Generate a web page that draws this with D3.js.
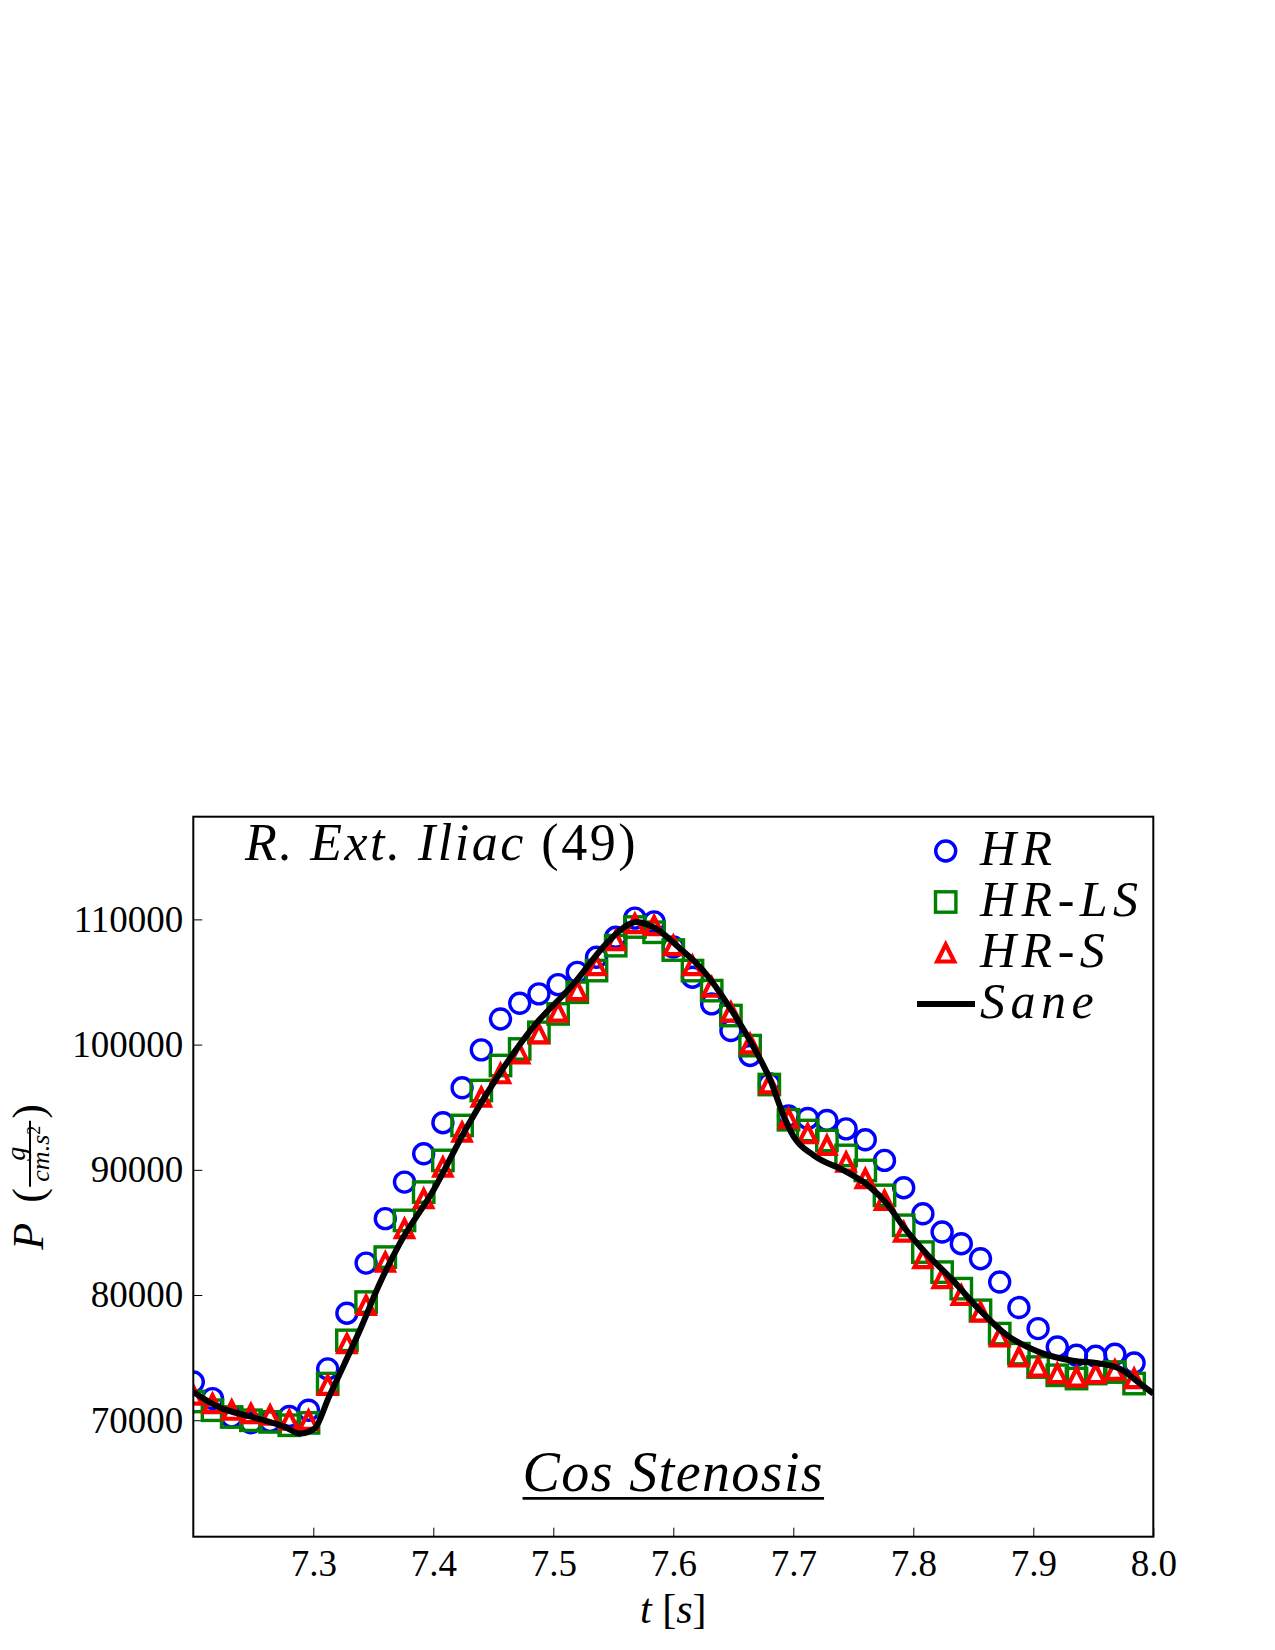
<!DOCTYPE html>
<html>
<head>
<meta charset="utf-8">
<script src="https://cdn.jsdelivr.net/npm/d3@7"></script>
<style>
body { margin: 0; background: #fff; }
text { font-family: "Liberation Serif", "Times New Roman", serif; fill: #000; }
</style>
</head>
<body>
<div id="chart"></div>
<script>
// sample times of the markers [s]
const times = [7.200, 7.216, 7.232, 7.248, 7.264, 7.280, 7.296, 7.312, 7.328, 7.344,
               7.360, 7.376, 7.392, 7.408, 7.424, 7.440, 7.456, 7.472, 7.488, 7.504,
               7.520, 7.536, 7.552, 7.568, 7.584, 7.600, 7.616, 7.632, 7.648, 7.664,
               7.680, 7.696, 7.712, 7.728, 7.744, 7.760, 7.776, 7.792, 7.808, 7.824,
               7.840, 7.856, 7.872, 7.888, 7.904, 7.920, 7.936, 7.952, 7.968, 7.984];

const hr = [73050, 71730, 70260, 69800, 69900, 70300, 70800, 74100, 78550, 82550,
            86100, 89020, 91280, 93760, 96550, 99580, 102050, 103300, 104050, 104790,
            105770, 106970, 108570, 110100, 109800, 107800, 105380, 103250, 101120, 99130,
            96870, 94300, 94100, 93940, 93270, 92400, 90750, 88570, 86490, 85030,
            84100, 82900, 81040, 79000, 77320, 75850, 75190, 75110, 75270, 74570];

const hrLS = [71500, 70800, 70260, 70000, 69870, 69600, 69790, 72930, 76380, 79440,
              83030, 85960, 88220, 90750, 93540, 96330, 98330, 99650, 100980, 102450,
              104180, 105910, 107900, 109390, 108970, 107550, 105910, 104310, 102320, 99920,
              96810, 94000, 93140, 92340, 91150, 89950, 87960, 85570, 83430, 81830,
              80510, 78780, 76920, 75320, 74250, 73590, 73330, 73730, 73850, 72930];

const hrS = [72000, 71330, 70800, 70530, 70400, 70000, 70000, 72790, 76120, 79180,
             82630, 85300, 87690, 90210, 93010, 95800, 97670, 99260, 100860, 102590,
             104310, 106310, 108300, 109660, 109500, 107900, 106310, 104580, 102590, 100060,
             96870, 94100, 92880, 91940, 90610, 89290, 87560, 85030, 82900, 81310,
             79980, 78640, 76650, 75050, 74250, 73730, 73450, 73730, 73990, 73330];

// reference (sane) curve
const saneT = [7.200, 7.221, 7.249, 7.276, 7.289, 7.301, 7.313, 7.326, 7.340, 7.354,
               7.372, 7.400, 7.428, 7.456, 7.483, 7.517, 7.544, 7.561, 7.569, 7.586,
               7.603, 7.625, 7.647, 7.667, 7.681, 7.692, 7.700, 7.717, 7.742, 7.764,
               7.778, 7.792, 7.811, 7.833, 7.853, 7.878, 7.906, 7.933, 7.956, 7.972,
               7.989, 8.000];
const saneP = [72260, 71060, 70260, 69470, 68940, 69340, 71860, 74520, 77450, 80640,
               84100, 88350, 93400, 97790, 101380, 104850, 108040, 109500, 109800, 109240,
               107900, 105910, 102980, 99790, 97130, 94300, 92700, 91150, 89950, 88620,
               87290, 85430, 83300, 81170, 79040, 76800, 75400, 74750, 74520, 74120,
               72930, 72130];

const xTicks = [7.3, 7.4, 7.5, 7.6, 7.7, 7.8, 7.9, 8.0];
const yTicks = [70000, 80000, 90000, 100000, 110000];
const legendNames = ["HR", "HR-LS", "HR-S", "Sane"];

const width = 1275, height = 1650;
const margin = {top: 816.7, right: 121.7, bottom: 113.3, left: 193.3};

const svg = d3.select("#chart").append("svg")
    .attr("width", width)
    .attr("height", height)
    .style("background", "#fff");

const x = d3.scaleLinear().domain([7.2, 8.0]).range([margin.left, width - margin.right]);
const y = d3.scaleLinear().domain([60700, 118200]).range([height - margin.bottom, margin.top]);

svg.append("clipPath").attr("id", "plotclip")
   .append("rect")
   .attr("x", margin.left).attr("y", margin.top)
   .attr("width", width - margin.left - margin.right)
   .attr("height", height - margin.top - margin.bottom);

// axes, ticks inward
const xAxis = svg.append("g")
    .attr("transform", `translate(0,${height - margin.bottom})`)
    .call(d3.axisBottom(x).tickValues(xTicks).tickFormat(d3.format(".1f"))
          .tickSizeInner(-9).tickSizeOuter(0).tickPadding(13));
const yAxis = svg.append("g")
    .attr("transform", `translate(${margin.left},0)`)
    .call(d3.axisLeft(y).tickValues(yTicks).tickFormat(d => d)
          .tickSizeInner(-9).tickSizeOuter(0).tickPadding(10));
[xAxis, yAxis].forEach(a => {
    a.select(".domain").remove();
    a.selectAll("line").attr("stroke", "#000").attr("stroke-width", 1);
    a.selectAll("text").style("font-size", "37px").attr("fill", "#000")
     .style("font-family", "'Liberation Serif', serif");
});

const plot = svg.append("g").attr("clip-path", "url(#plotclip)");

const tri = "M0,-8.5L-8.5,8.5L8.5,8.5Z";

plot.selectAll("circle.hr").data(times).join("circle")
    .attr("class", "hr")
    .attr("cx", d => x(d)).attr("cy", (d, i) => y(hr[i]))
    .attr("r", 10).attr("fill", "none")
    .attr("stroke", "#0000ff").attr("stroke-width", 3.4);

plot.selectAll("rect.ls").data(times).join("rect")
    .attr("class", "ls")
    .attr("x", d => x(d) - 10.2).attr("y", (d, i) => y(hrLS[i]) - 10.2)
    .attr("width", 20.4).attr("height", 20.4).attr("fill", "none")
    .attr("stroke", "#008000").attr("stroke-width", 3.4);

plot.selectAll("path.s").data(times).join("path")
    .attr("class", "s")
    .attr("d", tri)
    .attr("transform", (d, i) => `translate(${x(d)},${y(hrS[i])})`)
    .attr("fill", "none").attr("stroke", "#ff0000").attr("stroke-width", 4.2);

const line = d3.line()
    .x(d => x(d[0])).y(d => y(d[1]))
    .curve(d3.curveMonotoneX);
plot.append("path")
    .datum(saneT.map((t, i) => [t, saneP[i]]))
    .attr("d", line)
    .attr("fill", "none").attr("stroke", "#000").attr("stroke-width", 6)
    .attr("stroke-linejoin", "round");

// frame
svg.append("rect")
    .attr("x", margin.left).attr("y", margin.top)
    .attr("width", width - margin.left - margin.right)
    .attr("height", height - margin.top - margin.bottom)
    .attr("fill", "none").attr("stroke", "#000").attr("stroke-width", 2);

// title inside axes
const title = svg.append("text")
    .attr("x", 245).attr("y", 860)
    .style("font-size", "52px").style("letter-spacing", "2.5px");
title.append("tspan").style("font-style", "italic").text("R. Ext. Iliac ");
title.append("tspan").text("(49)");

// Cos Stenosis, underlined
const cs = svg.append("text")
    .attr("x", (margin.left + width - margin.right) / 2).attr("y", 1491)
    .attr("text-anchor", "middle")
    .style("font-size", "56px").style("font-style", "italic").style("letter-spacing", "1.4px")
    .text("Cos Stenosis");
const bb = cs.node().getBBox();
svg.append("line")
    .attr("x1", bb.x).attr("x2", bb.x + bb.width)
    .attr("y1", 1498.3).attr("y2", 1498.3)
    .attr("stroke", "#000").attr("stroke-width", 2.7);

// legend
const leg = svg.append("g");
const legY = d3.scalePoint().domain(legendNames).range([851, 1004]);
const lx = 945.7;
leg.append("circle").attr("cx", lx).attr("cy", legY("HR")).attr("r", 10)
   .attr("fill", "none").attr("stroke", "#0000ff").attr("stroke-width", 3.4);
leg.append("rect").attr("x", lx - 10.2).attr("y", legY("HR-LS") - 10.2)
   .attr("width", 20.4).attr("height", 20.4)
   .attr("fill", "none").attr("stroke", "#008000").attr("stroke-width", 3.4);
leg.append("path").attr("d", tri).attr("transform", `translate(${lx},${legY("HR-S")})`)
   .attr("fill", "none").attr("stroke", "#ff0000").attr("stroke-width", 4.2);
leg.append("line").attr("x1", 917).attr("x2", 975)
   .attr("y1", legY("Sane")).attr("y2", legY("Sane"))
   .attr("stroke", "#000").attr("stroke-width", 6);
leg.selectAll("text").data(legendNames).join("text")
   .attr("x", 980).attr("y", d => legY(d) + 14)
   .style("font-size", "50px").style("font-style", "italic").style("letter-spacing", "5.5px")
   .text(d => d);

// x label
const xl = svg.append("text")
    .attr("x", (margin.left + width - margin.right) / 2).attr("y", 1623)
    .attr("text-anchor", "middle").style("font-size", "42px");
xl.append("tspan").style("font-style", "italic").text("t");
xl.append("tspan").text(" [");
xl.append("tspan").style("font-style", "italic").text("s");
xl.append("tspan").text("]");

// y label: P (g / cm.s^2), rotated
const yl = svg.append("g").attr("transform", `translate(31,${(margin.top + height - margin.bottom) / 2}) rotate(-90)`);
yl.append("text").attr("x", -73).attr("y", 12)
  .style("font-size", "44px").style("font-style", "italic").text("P");
yl.append("text").attr("x", -26).attr("y", 12)
  .style("font-size", "44px").text("(");
yl.append("text").attr("x", 23).attr("y", -6).attr("text-anchor", "middle")
  .style("font-size", "28px").style("font-style", "italic").text("g");
yl.append("line").attr("x1", -10).attr("x2", 56).attr("y1", -1).attr("y2", -1)
  .attr("stroke", "#000").attr("stroke-width", 2);
const den = yl.append("text").attr("x", 23).attr("y", 18).attr("text-anchor", "middle")
  .style("font-size", "26px").style("font-style", "italic");
den.append("tspan").text("cm.s");
den.append("tspan").attr("dy", -9).style("font-size", "18px").style("font-style", "normal").text("2");
yl.append("text").attr("x", 58).attr("y", 12)
  .style("font-size", "44px").text(")");
</script>
</body>
</html>
